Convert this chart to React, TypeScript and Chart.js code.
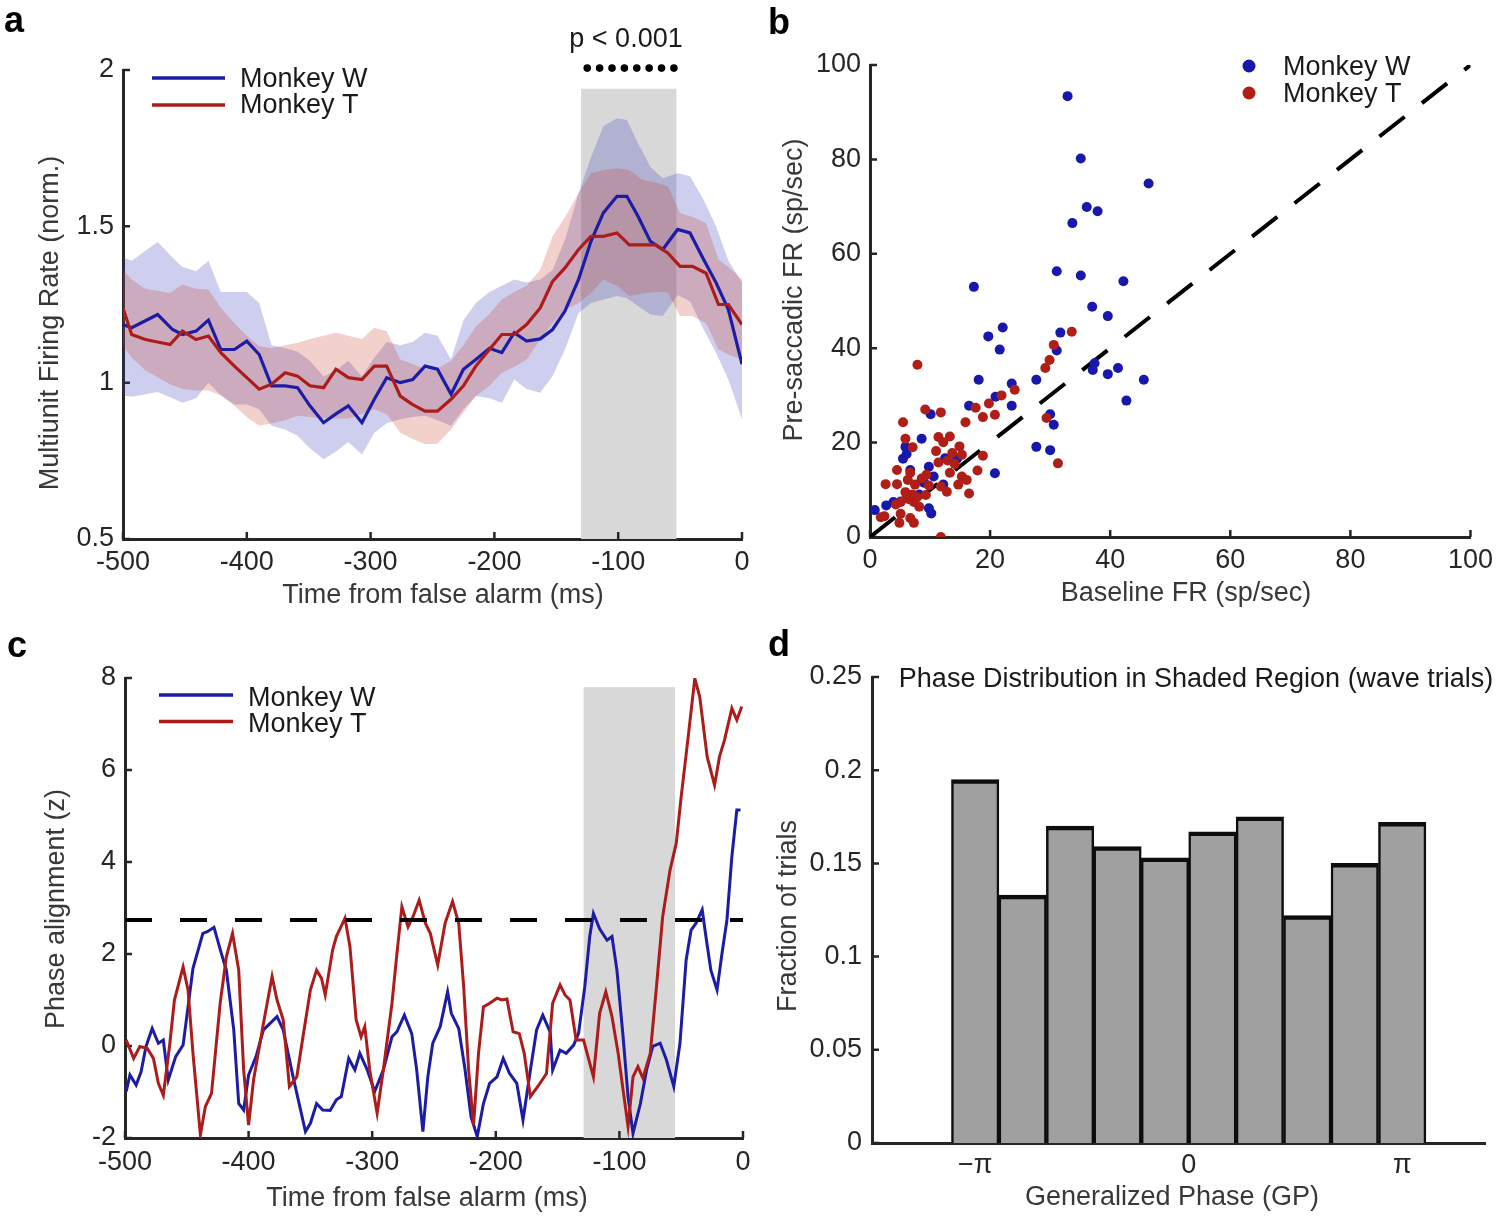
import React, { useEffect, useRef } from "react";
import { Chart, registerables } from "chart.js";

Chart.register(...registerables);

const FONT = '"Liberation Sans", Arial, Helvetica, sans-serif';
const TICK_COLOR = "#262626";
const TITLE_COLOR = "#383838";
const TEXT_COLOR = "#1a1a1a";
const AXIS_COLOR = "#262626";
const BLUE = "rgb(28,28,165)";
const RED = "rgb(172,28,26)";
const BLUE_DOT = "rgb(24,24,172)";
const RED_DOT = "rgb(176,30,24)";
const BLUE_BAND = "rgba(59,59,187,0.25)";
const RED_BAND = "rgba(203,67,51,0.25)";
const SHADE = "rgb(216,216,216)";

// ---------------- Panel a: multiunit firing rate ----------------
const aTimeW = [-500, -493, -472, -460, -452, -441, -431, -421, -410, -400, -390, -380, -369, -359, -349, -338, -328, -318, -307, -297, -287, -276, -266, -256, -246, -235, -225, -215, -204, -194, -184, -174, -163, -153, -143, -132, -122, -112, -101, -93, -84, -74, -64, -52, -42, -31, -21, -11, 0];
const aMeanW = [1.186, 1.176, 1.218, 1.17, 1.154, 1.165, 1.2, 1.106, 1.106, 1.133, 1.09, 0.99, 0.99, 0.984, 0.926, 0.872, 0.9, 0.926, 0.872, 0.947, 1.016, 1.0, 1.01, 1.053, 1.043, 0.963, 1.043, 1.074, 1.11, 1.096, 1.16, 1.133, 1.14, 1.17, 1.229, 1.33, 1.452, 1.543, 1.596, 1.596, 1.532, 1.452, 1.426, 1.49, 1.479, 1.394, 1.32, 1.234, 1.059];
const aUpperW = [1.4, 1.39, 1.45, 1.4, 1.37, 1.356, 1.39, 1.29, 1.29, 1.29, 1.255, 1.12, 1.11, 1.1, 1.07, 1.02, 1.04, 1.07, 1.02, 1.08, 1.13, 1.12, 1.13, 1.16, 1.15, 1.074, 1.2, 1.255, 1.29, 1.31, 1.33, 1.32, 1.33, 1.36, 1.457, 1.606, 1.72, 1.82, 1.846, 1.84, 1.766, 1.69, 1.654, 1.67, 1.66, 1.585, 1.5, 1.39, 1.32];
const aLowerW = [0.96, 0.955, 0.97, 0.95, 0.936, 0.95, 1.0, 0.96, 0.93, 0.93, 0.915, 0.862, 0.85, 0.83, 0.79, 0.755, 0.78, 0.81, 0.77, 0.84, 0.87, 0.883, 0.89, 0.894, 0.88, 0.862, 0.915, 0.957, 0.95, 0.936, 1.01, 0.98, 0.968, 1.021, 1.106, 1.223, 1.255, 1.266, 1.277, 1.27, 1.245, 1.218, 1.213, 1.28, 1.26, 1.17, 1.096, 1.01, 0.883];

const aTimeT = [-500, -493, -482, -462, -452, -441, -431, -421, -410, -400, -390, -380, -369, -359, -349, -338, -328, -318, -307, -297, -287, -276, -266, -256, -246, -235, -225, -215, -204, -194, -184, -174, -163, -153, -143, -132, -122, -112, -101, -91, -81, -70, -60, -50, -40, -29, -19, -11, 0];
const aMeanT = [1.239, 1.154, 1.138, 1.122, 1.165, 1.138, 1.149, 1.096, 1.053, 1.016, 0.979, 0.995, 1.032, 1.021, 0.99, 0.984, 1.043, 1.016, 1.01, 1.053, 1.053, 0.957, 0.93, 0.909, 0.909, 0.947, 0.99, 1.053, 1.106, 1.154, 1.154, 1.186, 1.239, 1.324, 1.367, 1.426, 1.468, 1.468, 1.479, 1.441, 1.441, 1.441, 1.415, 1.372, 1.372, 1.35, 1.25, 1.25, 1.186];
const aUpperT = [1.36, 1.33, 1.3, 1.287, 1.314, 1.3, 1.298, 1.24, 1.19, 1.15, 1.117, 1.11, 1.12, 1.128, 1.14, 1.15, 1.16, 1.15, 1.14, 1.176, 1.165, 1.074, 1.06, 1.043, 1.045, 1.07, 1.12, 1.18, 1.22, 1.266, 1.29, 1.31, 1.36, 1.468, 1.53, 1.606, 1.67, 1.68, 1.686, 1.68, 1.65, 1.64, 1.628, 1.543, 1.53, 1.51, 1.394, 1.37, 1.33];
const aLowerT = [1.117, 1.08, 1.04, 0.995, 0.98, 0.975, 0.975, 0.96, 0.926, 0.89, 0.862, 0.87, 0.88, 0.894, 0.89, 0.885, 0.885, 0.885, 0.9, 0.915, 0.9, 0.84, 0.82, 0.803, 0.805, 0.851, 0.904, 0.957, 0.99, 1.032, 1.05, 1.074, 1.138, 1.19, 1.234, 1.255, 1.287, 1.33, 1.31, 1.277, 1.285, 1.29, 1.29, 1.213, 1.213, 1.19, 1.106, 1.09, 1.074];

const aSigTime = [-125, -115, -105, -95, -85, -75, -65, -55];
const aSigLevel = [2.006, 2.006, 2.006, 2.006, 2.006, 2.006, 2.006, 2.006];
const aShadeRange = [-130, -53];
const aShadeTop = 1.94;

// ---------------- Panel b: scatter ----------------
const bBaseW = [32.9, 35.1, 46.4, 36.1, 37.9, 33.7, 31.1, 35.1, 17.3, 42.2, 37.0, 39.6, 22.1, 19.7, 31.7, 21.6, 31.1, 37.4, 37.1, 41.3, 39.6, 45.6, 27.7, 18.1, 23.6, 42.7, 20.9, 16.5, 23.6, 30.0, 30.6, 27.7, 30.0, 20.8, 10.1, 8.6, 5.9, 5.5, 6.1, 9.8, 12.5, 6.7, 0.8, 2.7, 3.9, 9.8, 10.2, 9.0, 10.6, 12.2, 8.2, 5.1, 14.5];
const bPreW = [93.4, 80.2, 74.9, 69.9, 69.0, 66.5, 56.3, 55.4, 53.0, 54.2, 48.8, 46.8, 44.4, 42.5, 43.3, 39.7, 39.5, 36.8, 35.4, 35.8, 34.5, 33.3, 33.3, 33.3, 32.5, 28.9, 29.7, 27.8, 27.8, 26.0, 23.8, 19.1, 18.4, 13.5, 26.0, 20.8, 19.1, 16.6, 17.6, 14.9, 16.7, 14.2, 5.7, 6.7, 7.4, 6.1, 5.0, 11.5, 12.8, 11.1, 9.0, 7.5, 16.6];
const bBaseT = [33.6, 30.6, 29.9, 29.2, 7.9, 24.1, 21.9, 19.8, 17.6, 18.8, 20.8, 29.4, 31.3, 9.2, 11.8, 5.5, 15.9, 5.9, 11.4, 13.3, 7.1, 12.2, 14.9, 18.8, 11.0, 13.7, 15.3, 11.4, 12.9, 14.1, 4.5, 6.7, 8.6, 9.4, 13.3, 15.3, 16.1, 17.9, 2.6, 4.5, 6.3, 7.5, 9.8, 11.8, 12.8, 14.7, 16.5, 5.9, 7.1, 6.1, 5.1, 6.5, 8.2, 7.3, 5.1, 6.7, 4.9, 7.3, 2.4, 1.8, 11.8, 4.3, 7.8, 9.3];
const bPreT = [43.5, 40.7, 37.5, 35.8, 36.5, 31.2, 30.0, 28.3, 27.4, 25.4, 25.9, 25.2, 15.6, 27.0, 26.4, 24.3, 24.3, 20.8, 21.2, 21.3, 19.0, 20.1, 19.2, 17.2, 18.2, 17.8, 17.4, 15.8, 16.2, 15.5, 14.2, 13.6, 12.4, 13.2, 13.6, 12.8, 12.1, 14.1, 11.2, 11.2, 12.1, 11.1, 10.9, 10.7, 9.6, 11.1, 9.2, 9.5, 9.0, 8.2, 7.4, 8.0, 6.4, 7.4, 4.9, 4.0, 3.0, 3.0, 4.4, 4.2, 0.0, 6.9, 8.4, 8.9];
const bUnity = [0, 100];

// ---------------- Panel c: phase alignment ----------------
const cTimeW = [-499, -496, -491, -487, -483, -478, -473, -469, -465, -459, -453, -449, -445, -437, -433, -428, -422, -418, -412, -408, -404, -400, -394, -388, -377, -372, -364, -354, -350, -345, -340, -334, -329, -325, -319, -314, -310, -304, -298, -291, -284, -280, -274, -268, -264, -259, -255, -251, -245, -239, -236, -230, -225, -220, -215, -210, -205, -199, -194, -189, -183, -178, -172, -167, -162, -156, -154, -148, -143, -137, -133, -128, -124, -121, -116, -110, -106, -102, -97, -93, -89, -83, -78, -73, -67, -62, -56, -51, -46, -42, -38, -33, -30, -26, -21, -17, -13, -9, -5, -2];
const cValW = [-0.99, -0.63, -0.85, -0.56, -0.01, 0.38, 0.06, 0.13, -0.74, -0.23, 0.02, 0.85, 1.69, 2.45, 2.49, 2.58, 2.01, 1.65, 0.35, -1.25, -1.39, -0.63, -0.23, 0.35, 0.64, 0.35, -0.67, -1.86, -1.68, -1.25, -1.39, -1.4, -1.17, -1.1, -0.27, -0.52, -0.16, -0.52, -0.99, -0.52, 0.2, 0.31, 0.67, 0.27, -0.52, -1.86, -0.67, 0.06, 0.42, 1.18, 0.71, 0.38, -0.49, -1.54, -1.97, -1.25, -0.81, -0.67, -0.27, -0.59, -0.81, -1.61, -0.52, 0.35, 0.67, 0.3, -0.52, -0.09, -0.16, 0.02, 0.28, 1.29, 2.38, 2.88, 2.55, 2.3, 2.38, 1.65, 0.2, -1.1, -1.9, -1.25, -0.52, -0.01, 0.06, -0.3, -0.88, 0.06, 1.87, 2.52, 2.67, 2.96, 2.38, 1.65, 1.22, 2.01, 2.74, 4.12, 5.13, 5.13];
const cTimeT = [-499, -493, -488, -482, -477, -473, -469, -464, -460, -453, -449, -445, -439, -435, -430, -423, -418, -413, -408, -404, -400, -396, -388, -381, -377, -372, -367, -361, -356, -350, -345, -341, -338, -332, -329, -322, -318, -313, -309, -306, -302, -296, -291, -284, -280, -276, -271, -267, -262, -257, -253, -247, -241, -235, -230, -226, -222, -218, -214, -210, -205, -199, -195, -191, -186, -181, -177, -172, -166, -159, -154, -148, -144, -140, -135, -129, -121, -116, -111, -106, -101, -97, -93, -89, -85, -81, -75, -70, -65, -59, -54, -50, -44, -39, -35, -29, -23, -19, -15, -9, -5, -1];
const cValT = [0.13, -0.27, -0.01, -0.05, -0.27, -0.81, -1.07, -0.01, 1.0, 1.72, 1.22, -0.16, -1.93, -1.32, -1.03, 0.93, 1.94, 2.45, 1.65, -0.52, -1.72, -0.74, 0.49, 1.51, 1.0, 0.57, -0.88, -0.67, 0.2, 1.22, 1.65, 1.47, 1.11, 2.09, 2.38, 2.78, 2.16, 0.57, 0.2, 0.42, -0.52, -1.46, -0.52, 0.93, 2.01, 3.03, 2.59, 2.81, 3.17, 2.67, 2.45, 1.76, 2.67, 3.14, 2.67, 1.29, -0.52, -1.72, -0.16, 0.85, 0.93, 1.04, 1.0, 1.02, 0.31, 0.27, -0.16, -1.1, -0.88, -0.6, 0.93, 1.33, 1.11, 1.0, 0.13, 0.13, -0.67, 0.71, 1.18, 0.64, -0.16, -0.96, -1.75, -0.67, -0.45, -0.7, -0.16, 1.29, 2.81, 3.83, 4.41, 5.42, 6.8, 7.99, 7.59, 6.29, 5.67, 6.29, 6.65, 7.34, 7.09, 7.38];
const cThreshTime = [-500, 0];
const cThreshLevel = [2.74, 2.74];
const cShadeRange = [-129, -55];
const cShadeTop = 7.8;

// ---------------- Panel d: phase histogram ----------------
const dBinCenters = [-3.1416, -2.4435, -1.7453, -1.0472, -0.3491, 0.3491, 1.0472, 1.7453, 2.4435, 3.1416];
const dFractions = [0.195, 0.133, 0.17, 0.159, 0.153, 0.167, 0.175, 0.122, 0.15, 0.172];
const dTickValues = [-Math.PI, 0, Math.PI];
const dTickLabels = ["\u2212\u03c0", "0", "\u03c0"];

// ---------------- helpers ----------------
const pts = (xs: number[], ys: number[]) => xs.map((x, i) => ({ x, y: ys[i] }));
const plainNum = (v: any) => String(Math.round(Number(v) * 1000) / 1000);

type TextItem = {
  text: string;
  x: number;
  y: number;
  align?: CanvasTextAlign;
  baseline?: CanvasTextBaseline;
  rot?: number;
  font?: string;
  color?: string;
};
type Mark =
  | { kind: "line"; x1: number; x2: number; y: number; color: string; width: number }
  | { kind: "dot"; x: number; y: number; r: number; color: string };

const TXT = `27px ${FONT}`;
const LETTER = `bold 36px ${FONT}`;

function overlay(cfg: {
  texts: TextItem[];
  marks: Mark[];
  shade?: { range: number[]; top: number };
  tickX: boolean;
  tickY: boolean;
}) {
  return {
    id: "overlay",
    beforeDatasetsDraw(chart: any) {
      const ctx: CanvasRenderingContext2D = chart.ctx;
      const xs = chart.scales.x;
      const ys = chart.scales.y;
      const ca = chart.chartArea;
      ctx.save();
      if (cfg.shade) {
        const x0 = xs.getPixelForValue(cfg.shade.range[0]);
        const x1 = xs.getPixelForValue(cfg.shade.range[1]);
        const yt = ys.getPixelForValue(cfg.shade.top);
        const yb = ys.getPixelForValue(ys.min);
        ctx.fillStyle = SHADE;
        ctx.fillRect(x0, yt, x1 - x0, yb - yt);
      }
      ctx.strokeStyle = AXIS_COLOR;
      ctx.lineWidth = 2.5;
      ctx.beginPath();
      if (cfg.tickX) {
        xs.ticks.forEach((_t: any, i: number) => {
          const p = xs.getPixelForTick(i);
          ctx.moveTo(p, ca.bottom);
          ctx.lineTo(p, ca.bottom - 7);
        });
      }
      if (cfg.tickY) {
        ys.ticks.forEach((_t: any, i: number) => {
          const p = ys.getPixelForTick(i);
          ctx.moveTo(ca.left, p);
          ctx.lineTo(ca.left + 7, p);
        });
      }
      ctx.stroke();
      ctx.restore();
    },
    afterDraw(chart: any) {
      const ctx: CanvasRenderingContext2D = chart.ctx;
      ctx.save();
      for (const m of cfg.marks) {
        if (m.kind === "line") {
          ctx.strokeStyle = m.color;
          ctx.lineWidth = m.width;
          ctx.beginPath();
          ctx.moveTo(m.x1, m.y);
          ctx.lineTo(m.x2, m.y);
          ctx.stroke();
        } else {
          ctx.fillStyle = m.color;
          ctx.beginPath();
          ctx.arc(m.x, m.y, m.r, 0, Math.PI * 2);
          ctx.fill();
        }
      }
      for (const t of cfg.texts) {
        ctx.save();
        ctx.font = t.font || TXT;
        ctx.fillStyle = t.color || TEXT_COLOR;
        ctx.textAlign = t.align || "left";
        ctx.textBaseline = t.baseline || "alphabetic";
        ctx.translate(t.x, t.y);
        if (t.rot) ctx.rotate(t.rot);
        ctx.fillText(t.text, 0, 0);
        ctx.restore();
      }
      ctx.restore();
    },
  };
}

function linAxis(
  min: number,
  max: number,
  step: number | undefined,
  pad: number,
  fitKey: "width" | "height",
  fitVal: number,
  extra: any = {}
) {
  return {
    type: "linear",
    min,
    max,
    offset: false,
    grid: { display: false, drawTicks: false },
    border: { display: true, color: AXIS_COLOR, width: 3 },
    ticks: {
      stepSize: step,
      padding: pad,
      color: TICK_COLOR,
      font: { family: FONT, size: 27 },
      autoSkip: false,
      maxRotation: 0,
      minRotation: 0,
      callback: plainNum,
      ...(extra.ticks || {}),
    },
    afterFit: (s: any) => {
      s[fitKey] = fitVal;
    },
    ...(extra.rest || {}),
  };
}

const baseOptions = (padding: any) => ({
  animation: false as const,
  responsive: false,
  devicePixelRatio: 1,
  events: [] as any[],
  layout: { padding },
  plugins: { legend: { display: false }, tooltip: { enabled: false } },
});

// ---------------- chart configs ----------------
function configA(): any {
  return {
    type: "line",
    data: {
      datasets: [
        { data: pts(aSigTime, aSigLevel), showLine: false, pointRadius: 3.8, pointBackgroundColor: "#000", pointBorderWidth: 0, clip: false, order: -1 },
        { data: pts(aTimeT, aMeanT), borderColor: RED, borderWidth: 3.2, pointRadius: 0, tension: 0, fill: false, order: 0 },
        { data: pts(aTimeW, aMeanW), borderColor: BLUE, borderWidth: 3.2, pointRadius: 0, tension: 0, fill: false, order: 1 },
        { data: pts(aTimeT, aUpperT), borderWidth: 0, pointRadius: 0, tension: 0, backgroundColor: RED_BAND, fill: 4, order: 2 },
        { data: pts(aTimeT, aLowerT), borderWidth: 0, pointRadius: 0, tension: 0, fill: false, order: 3 },
        { data: pts(aTimeW, aUpperW), borderWidth: 0, pointRadius: 0, tension: 0, backgroundColor: BLUE_BAND, fill: 6, order: 4 },
        { data: pts(aTimeW, aLowerW), borderWidth: 0, pointRadius: 0, tension: 0, fill: false, order: 5 },
      ],
    },
    options: {
      ...baseOptions({ left: 0, top: 70, right: 18, bottom: 0 }),
      scales: {
        x: linAxis(-500, 0, 100, 7, "height", 81),
        y: linAxis(0.5, 2, 0.5, 9, "width", 123),
      },
    },
    plugins: [
      overlay({
        shade: { range: aShadeRange, top: aShadeTop },
        tickX: true,
        tickY: true,
        marks: [
          { kind: "line", x1: 152, x2: 225, y: 78, color: BLUE, width: 3.5 },
          { kind: "line", x1: 152, x2: 225, y: 105, color: RED, width: 3.5 },
        ],
        texts: [
          { text: "a", x: 4, y: 32, font: LETTER, color: "#000" },
          { text: "p < 0.001", x: 626, y: 47, align: "center" },
          { text: "Monkey W", x: 240, y: 87 },
          { text: "Monkey T", x: 240, y: 113 },
          { text: "Multiunit Firing Rate (norm.)", x: 51, y: 323, rot: -Math.PI / 2, align: "center", baseline: "middle", color: TITLE_COLOR },
          { text: "Time from false alarm (ms)", x: 443, y: 603, align: "center", color: TITLE_COLOR },
        ],
      }),
    ],
  };
}

function configB(): any {
  return {
    type: "scatter",
    data: {
      datasets: [
        { data: pts(bBaseT, bPreT), pointRadius: 5, pointBackgroundColor: RED_DOT, pointBorderWidth: 0, order: 0 },
        { data: pts(bBaseW, bPreW), pointRadius: 5, pointBackgroundColor: BLUE_DOT, pointBorderWidth: 0, order: 1 },
        { data: pts(bUnity, bUnity), showLine: true, borderColor: "#000", borderWidth: 4, borderDash: [32, 22], pointRadius: 0, order: 2 },
      ],
    },
    options: {
      ...baseOptions({ left: 0, top: 65, right: 27, bottom: 0 }),
      scales: {
        x: linAxis(0, 100, 20, 7, "height", 83),
        y: linAxis(0, 100, 20, 9, "width", 110),
      },
    },
    plugins: [
      overlay({
        tickX: true,
        tickY: true,
        marks: [
          { kind: "dot", x: 489, y: 66, r: 6.5, color: BLUE_DOT },
          { kind: "dot", x: 489, y: 93, r: 6.5, color: RED_DOT },
        ],
        texts: [
          { text: "b", x: 8, y: 34, font: LETTER, color: "#000" },
          { text: "Monkey W", x: 523, y: 75 },
          { text: "Monkey T", x: 523, y: 102 },
          { text: "Pre-saccadic FR (sp/sec)", x: 35, y: 290, rot: -Math.PI / 2, align: "center", baseline: "middle", color: TITLE_COLOR },
          { text: "Baseline FR (sp/sec)", x: 426, y: 601, align: "center", color: TITLE_COLOR },
        ],
      }),
    ],
  };
}

function configC(): any {
  return {
    type: "line",
    data: {
      datasets: [
        { data: pts(cThreshTime, cThreshLevel), borderColor: "#000", borderWidth: 4, borderDash: [27, 28], pointRadius: 0, fill: false, order: 0 },
        { data: pts(cTimeT, cValT), borderColor: RED, borderWidth: 3, pointRadius: 0, tension: 0, fill: false, order: 1 },
        { data: pts(cTimeW, cValW), borderColor: BLUE, borderWidth: 3, pointRadius: 0, tension: 0, fill: false, order: 2 },
      ],
    },
    options: {
      ...baseOptions({ left: 0, top: 58, right: 17, bottom: 0 }),
      scales: {
        x: linAxis(-500, 0, 100, 8, "height", 78),
        y: linAxis(-2, 8, 2, 9, "width", 125),
      },
    },
    plugins: [
      overlay({
        shade: { range: cShadeRange, top: cShadeTop },
        tickX: true,
        tickY: true,
        marks: [
          { kind: "line", x1: 159, x2: 233, y: 75, color: BLUE, width: 3.5 },
          { kind: "line", x1: 159, x2: 233, y: 101.5, color: RED, width: 3.5 },
        ],
        texts: [
          { text: "c", x: 7, y: 37, font: LETTER, color: "#000" },
          { text: "Monkey W", x: 248, y: 86 },
          { text: "Monkey T", x: 248, y: 112 },
          { text: "Phase alignment (z)", x: 57, y: 289, rot: -Math.PI / 2, align: "center", baseline: "middle", color: TITLE_COLOR },
          { text: "Time from false alarm (ms)", x: 427, y: 586, align: "center", color: TITLE_COLOR },
        ],
      }),
    ],
  };
}

function configD(): any {
  return {
    type: "bar",
    data: {
      datasets: [
        {
          data: pts(dBinCenters, dFractions),
          backgroundColor: "#a0a0a0",
          borderColor: "#0d0d0d",
          borderWidth: { top: 4.5, left: 2.5, right: 2.5, bottom: 0 },
          borderSkipped: "start",
          barPercentage: 1,
          categoryPercentage: 1,
        },
      ],
    },
    options: {
      ...baseOptions({ left: 0, top: 57, right: 15, bottom: 0 }),
      scales: {
        x: linAxis(-4.66, 4.36, undefined, 6, "height", 73, {
          ticks: { callback: (_v: any, i: number) => dTickLabels[i] },
          rest: {
            afterBuildTicks: (s: any) => {
              s.ticks = dTickValues.map((v) => ({ value: v }));
            },
          },
        }),
        y: linAxis(0, 0.25, 0.05, 10, "width", 112),
      },
    },
    plugins: [
      overlay({
        tickX: false,
        tickY: true,
        marks: [],
        texts: [
          { text: "d", x: 8, y: 36, font: LETTER, color: "#000" },
          { text: "Phase Distribution in Shaded Region (wave trials)", x: 436, y: 67, align: "center" },
          { text: "Fraction of trials", x: 29, y: 296, rot: -Math.PI / 2, align: "center", baseline: "middle", color: TITLE_COLOR },
          { text: "Generalized Phase (GP)", x: 412, y: 585, align: "center", color: TITLE_COLOR },
        ],
      }),
    ],
  };
}

function Panel(props: { left: number; top: number; width: number; height: number; make: () => any }) {
  const ref = useRef<HTMLCanvasElement | null>(null);
  useEffect(() => {
    if (!ref.current) return;
    const chart = new Chart(ref.current, props.make());
    return () => chart.destroy();
  }, []);
  return (
    <canvas
      ref={ref}
      width={props.width}
      height={props.height}
      style={{ position: "absolute", left: props.left, top: props.top, width: props.width, height: props.height }}
    />
  );
}

export default function App() {
  return (
    <div style={{ position: "absolute", left: 0, top: 0, width: 1500, height: 1216, background: "#fff", overflow: "hidden" }}>
      <Panel left={0} top={0} width={760} height={620} make={configA} />
      <Panel left={760} top={0} width={740} height={620} make={configB} />
      <Panel left={0} top={620} width={760} height={596} make={configC} />
      <Panel left={760} top={620} width={740} height={596} make={configD} />
    </div>
  );
}
